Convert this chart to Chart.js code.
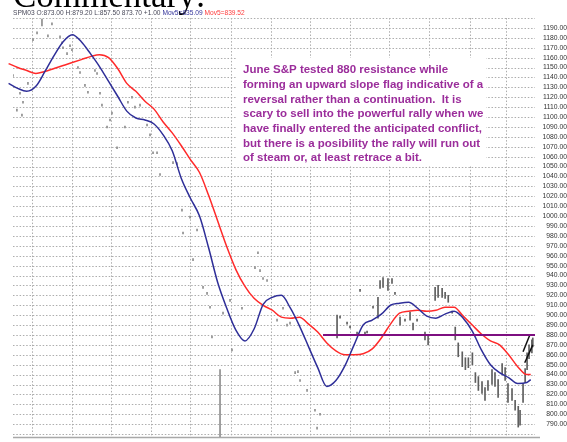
<!DOCTYPE html>
<html>
<head>
<meta charset="utf-8">
<script src="https://cdn.jsdelivr.net/npm/chart.js@4.4.1/dist/chart.umd.min.js"></script>
<style>
  html, body { margin: 0; padding: 0; background: #fff; }
  #chart { display: block; }
</style>
</head>
<body>
<canvas id="chart" width="567" height="442" style="width:567px;height:442px"></canvas>
<script>
// x values are days counted from 1 Mar 2002
const monthDays = [0, 31, 61, 92, 122, 153, 184, 214, 245, 275, 306, 337, 365];
const monthLabels = ['Mar', 'Apr', 'May', 'Jun', 'Jul', 'Aug', 'Sep', 'Oct', 'Nov', 'Dec', "'03", 'Feb', 'Mar'];

// weekly readings of the two moving averages
const maDays = [-25, -18, -11, -4, 3, 10, 17, 24, 31, 38, 45, 52, 59, 66, 73, 80, 87, 94, 101, 108,
  115, 122, 129, 136, 143, 150, 157, 164, 171, 178, 185, 192, 199, 206, 213, 220, 227, 234, 241, 248,
  255, 262, 269, 276, 283, 290, 297, 304, 311, 318, 325, 332, 339, 346, 353, 360, 367, 374, 381, 384];
const fastMA = [1139, 1134, 1129, 1126, 1131, 1146, 1162, 1176, 1183, 1176, 1164, 1151, 1136, 1121, 1106, 1099, 1097, 1093, 1082, 1066,
  1038, 1018, 1000, 968, 933, 907, 885, 874, 886, 911, 918, 920, 907, 889, 868, 847, 828, 834, 849, 870,
  890, 895, 901, 910, 912, 913, 907, 899, 897, 901, 904, 897, 884, 865, 850, 842, 837, 831, 832, 835];
const slowMA = [1158, 1154, 1150, 1147, 1144, 1146, 1149, 1152, 1155, 1158, 1161, 1163, 1160, 1149, 1134, 1126, 1116, 1108, 1095, 1084,
  1071, 1057, 1044, 1021, 995, 969, 946, 929, 917, 910, 905, 898, 897, 898, 891, 883, 872, 864, 860, 860,
  861, 866, 877, 891, 902, 904, 905, 904, 905, 908, 908, 899, 890, 881, 874, 870, 860, 848, 840, 840];

// price bars (high / low) as they show on the picture
const barDays = [-14.6, -11.6, -9.2, -7.7, -6.9, -3.1, 0.8, 3.9, 7.7, 12.3, 15.4, 21.6, 23.1, 23.9, 27, 29.3, 30.8, 35.4, 37, 40.8,
  43.1, 48.5, 50.1, 52.4, 53.9, 57.8, 60.1, 61.6, 65.5, 71.6, 73.9, 77, 79.3, 83.2, 88.6, 90.9, 93.2, 96.3, 98.6, 108.6,
  111.7, 115.5, 116.3, 121.7, 124, 127.1, 131.7, 134.8, 137.1, 138.6, 144.8, 147.1, 152.5, 154, 161.7, 171.7, 174, 175.6, 177.9, 181,
  188.7, 193.3, 196.4, 198.7, 202.6, 204.8, 206.4, 211.8, 217.9, 219.5, 221.8, 234.9, 237.2, 242.6, 244.9, 250.3, 252.6, 256.4, 258, 262.6,
  266.4, 268, 270.3, 274.1, 277.2, 279.5, 283.4, 287.2, 291.1, 293.4, 296.5, 302.6, 305, 310.4, 312.7, 315.8, 318.1, 320.5, 323.5, 325.9,
  328.2, 331.3, 333.7, 336, 339.1, 341.4, 343.7, 346.5, 348.8, 351.1, 354.2, 356.5, 358.9, 362, 364.3, 366.5, 369.6, 372, 374.4, 375.8,
  378.1, 379.7, 381.2, 382.7, 384.9, 385.6];
const barHigh = [1143, 1108, 1125, 1103, 1116, 1135, 1179, 1186, 1199, 1183, 1195, 1182, 1176, 1171, 1165, 1173, 1169, 1151, 1146, 1133,
  1126, 1148, 1145, 1125, 1113, 1091, 1098, 1105, 1070, 1091, 1116, 1121, 1111, 1113, 1093, 1083, 1065, 1065, 1043, 1055,
  1054, 1007, 984, 1000, 957, 987, 929, 923, 909, 879, 845, 903, 916, 866, 908, 949, 964, 946, 938, 936,
  896, 908, 891, 893, 843, 844, 835, 825, 805, 787, 801, 900, 899, 893, 889, 883, 926, 883, 884, 909,
  918, 935, 938, 937, 937, 923, 898, 896, 903, 892, 896, 883, 880, 928, 930, 927, 923, 920, 904, 888,
  872, 863, 857, 857, 862, 842, 838, 833, 827, 834, 845, 842, 835, 851, 847, 831, 826, 814, 808, 804,
  831, 846, 862, 870, 875, 877];
const barLow = [1141, 1106, 1123, 1101, 1114, 1133, 1177, 1184, 1192, 1181, 1193, 1180, 1174, 1169, 1163, 1171, 1167, 1149, 1144, 1131,
  1124, 1146, 1143, 1123, 1111, 1089, 1096, 1103, 1068, 1089, 1114, 1119, 1109, 1111, 1091, 1081, 1063, 1063, 1041, 1053,
  1052, 1005, 982, 998, 955, 985, 927, 921, 907, 877, 777, 901, 914, 864, 906, 947, 962, 944, 936, 934,
  894, 906, 889, 891, 841, 842, 833, 823, 803, 785, 799, 877, 897, 891, 887, 881, 924, 881, 882, 907,
  897, 927, 928, 925, 932, 921, 890, 894, 895, 885, 894, 875, 870, 915, 918, 918, 917, 913, 902, 875,
  858, 848, 845, 847, 850, 832, 824, 821, 814, 824, 830, 828, 817, 841, 834, 812, 814, 804, 787, 789,
  812, 832, 845, 856, 862, 868];

const resistance = 880;
const resistanceFrom = 224.1;
const flagUpper = [[378.1, 863], [383.3, 880]];
const flagLower = [[379.4, 852], [385.6, 870]];

const headerParts = [
  ['SPM03 O:873.00 H:879.20 L:857.50 873.70 +1.00 ', '#4a4a5a'],
  ['Mov5=835.09 ', '#33339a'],
  ['Mov5=839.52', '#ff3a3a']
];
const noteLines = [
  'June S&P tested 880 resistance while',
  'forming an upward slope flag indicative of a',
  'reversal rather than a continuation.  It is',
  'scary to sell into the powerful rally when we',
  'have finally entered the anticipated conflict,',
  'but there is a posibility the rally will run out',
  'of steam or, at least retrace a bit.'
];

const GRID = '#adadad';

// dotted grid, white box behind the comment, then texts on top
const textPlugin = {
  id: 'texts',
  beforeDatasetsDraw(chart) {
    const { ctx, chartArea: a, scales } = chart;
    ctx.save();
    ctx.strokeStyle = GRID;
    ctx.lineWidth = 1;
    ctx.setLineDash([1.5, 1.8]);
    scales.y.ticks.forEach(t => {
      const y = Math.round(scales.y.getPixelForValue(t.value)) + 0.5;
      ctx.beginPath();
      ctx.moveTo(a.left, y);
      ctx.lineTo(a.right, y);
      ctx.stroke();
    });
    monthDays.forEach(d => {
      const x = Math.round(scales.x.getPixelForValue(d)) + 0.5;
      ctx.beginPath();
      ctx.moveTo(x, a.top);
      ctx.lineTo(x, a.bottom);
      ctx.stroke();
    });
    ctx.setLineDash([]);
    ctx.fillStyle = '#fff';
    ctx.fillRect(236, 58, 250, 108);
    ctx.restore();
  },
  afterDraw(chart) {
    const ctx = chart.ctx;
    ctx.save();
    // bottom axis line
    ctx.strokeStyle = '#a8a8a8';
    ctx.lineWidth = 1.5;
    ctx.beginPath();
    ctx.moveTo(13, 437.5);
    ctx.lineTo(540, 437.5);
    ctx.stroke();

    // big title cut off at the top
    ctx.fillStyle = '#000';
    ctx.font = '35px "Liberation Serif"';
    ctx.textBaseline = 'alphabetic';
    ctx.fillText('Commentary:', 13, 7);

    // quote line
    ctx.font = '10px "Liberation Sans"';
    const full = headerParts.map(p => p[0]).join('');
    const size = 10 * 232 / ctx.measureText(full).width;
    ctx.font = size.toFixed(2) + 'px "Liberation Sans"';
    ctx.textBaseline = 'middle';
    let x = 13;
    headerParts.forEach(([t, c]) => {
      ctx.fillStyle = c;
      ctx.fillText(t, x, 13.5);
      x += ctx.measureText(t).width;
    });

    // comment
    ctx.fillStyle = '#9b2d9b';
    ctx.font = 'bold 11.5px "Liberation Sans"';
    noteLines.forEach((line, i) => {
      ctx.fillText(line, 243, 70 + i * 14.7);
    });
    ctx.restore();
  }
};

const ctx = document.getElementById('chart');
new Chart(ctx, {
  type: 'line',
  data: {
    datasets: [
      {
        type: 'bar',
        data: barDays.map((d, i) => ({ x: d, y: [barLow[i], barHigh[i]] })),
        backgroundColor: (c) => (c.raw && c.raw.x < 230 ? '#8e8e8e' : '#5e5e5e'),
        barThickness: 1,
        order: 5
      },
      {
        data: maDays.map((d, i) => ({ x: d, y: slowMA[i] })),
        borderColor: '#ff2a2a',
        borderWidth: 1.5,
        pointRadius: 0,
        cubicInterpolationMode: 'monotone',
        clip: { left: 20, top: 0, right: 0, bottom: 0 },
        order: 2
      },
      {
        data: maDays.map((d, i) => ({ x: d, y: fastMA[i] })),
        borderColor: '#2e2e98',
        borderWidth: 1.5,
        pointRadius: 0,
        cubicInterpolationMode: 'monotone',
        clip: { left: 20, top: 0, right: 0, bottom: 0 },
        order: 1
      },
      {
        data: [{ x: resistanceFrom, y: resistance }, { x: 387.3, y: resistance }],
        borderColor: '#7d0f80',
        borderWidth: 2,
        pointRadius: 0,
        order: 0
      },
      {
        data: flagUpper.map(p => ({ x: p[0], y: p[1] })),
        borderColor: '#111',
        borderWidth: 1.5,
        pointRadius: 0,
        order: 0
      },
      {
        data: flagLower.map(p => ({ x: p[0], y: p[1] })),
        borderColor: '#111',
        borderWidth: 1.5,
        pointRadius: 0,
        order: 0
      }
    ]
  },
  options: {
    responsive: false,
    animation: false,
    layout: { padding: { left: 13, top: 18, right: 0, bottom: 0 } },
    plugins: { legend: { display: false }, tooltip: { enabled: false } },
    scales: {
      x: {
        type: 'linear',
        min: -14.6,
        max: 387.3,
        offset: false,
        grid: { display: false },
        border: { display: false },
        afterBuildTicks: (scale) => { scale.ticks = monthDays.map(v => ({ value: v })); },
        afterFit: (scale) => { scale.height = 5; },
        ticks: {
          autoSkip: false,
          maxRotation: 0,
          padding: 3,
          color: '#333',
          font: { family: 'Liberation Sans', size: 7 },
          callback: (v, i) => monthLabels[i]
        }
      },
      y: {
        position: 'right',
        min: 777,
        max: 1200,
        grid: { display: false },
        border: { display: false },
        afterFit: (scale) => { scale.width = 32; },
        ticks: {
          stepSize: 10,
          includeBounds: false,
          autoSkip: false,
          crossAlign: 'far',
          padding: 0,
          color: '#333',
          font: { family: 'Liberation Sans', size: 6.8 },
          callback: (v) => (v >= 790 && v <= 1190 ? v.toFixed(2) : '')
        }
      }
    }
  },
  plugins: [textPlugin]
});
</script>
</body>
</html>
